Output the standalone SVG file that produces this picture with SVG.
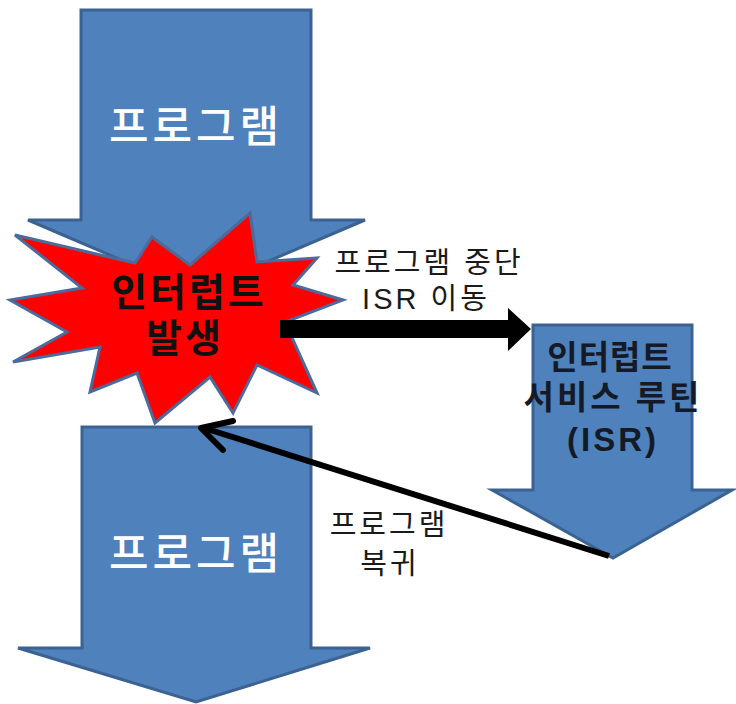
<svg xmlns="http://www.w3.org/2000/svg" width="736" height="704" viewBox="0 0 736 704">
<style>
.blk{fill:#4f81bd;stroke:#3b6291;stroke-width:3;stroke-linejoin:miter}
.t{font-family:"Liberation Sans","Noto Sans CJK KR",sans-serif;text-anchor:middle}
.wt{fill:#ffffff;font-size:43px;font-weight:500;letter-spacing:4px}
.bt{fill:#111111;font-size:39px;font-weight:700;letter-spacing:3px}
.it{fill:#141a26;font-size:33px;font-weight:700;letter-spacing:3px}
.lt{fill:#1a1a1a;font-size:29px;font-weight:400;letter-spacing:3px}
</style>
<rect width="736" height="704" fill="#ffffff"/>
<g id="program-top">
<path class="blk" d="M81,10 H311 V220 H365 L196,292 L28,220 H81 Z"/>
<text class="t wt" x="196" y="142">프로그램</text>
</g>
<g id="program-bottom">
<path class="blk" d="M82,427 H311 V648 H370 L196,702 L18,648 H82 Z"/>
<text class="t wt" x="196" y="569">프로그램</text>
</g>
<g id="isr">
<path class="blk" d="M533,325 H692 V490 H732 L613,558 L492,490 H533 Z"/>
<text class="t it" x="610" y="369" style="letter-spacing:1px">인터럽트</text>
<text class="t it" x="613" y="409">서비스 루틴</text>
<text class="t it" x="613" y="451">(ISR)</text>
</g>
<g id="interrupt">
<path d="M15,235 L135,263 L152,237 L190,265 L250,213 L257,262 L317,258 L293,285 L343,300 L285,322 L317,393 L257,365 L233,413 L210,377 L155,423 L137,373 L90,392 L100,347 L13,362 L67,332 L10,300 L82,288 Z" fill="#ff0000" stroke="#4a6b9b" stroke-width="3" stroke-linejoin="miter"/>
<text class="t bt" x="189" y="306">인터럽트</text>
<text class="t bt" x="185" y="352">발생</text>
</g>
<g id="connectors">
<path d="M280,320 H508 V308 L531,329 L508,351 V338 H280 Z" fill="#000000"/>
<line x1="609" y1="556" x2="204" y2="428" stroke="#000000" stroke-width="6"/>
<polyline points="233,421 201,428 223,450" fill="none" stroke="#000000" stroke-width="6" stroke-linecap="round" stroke-linejoin="round"/>
<text class="t lt" x="429" y="273">프로그램 중단</text>
<text class="t lt" x="426" y="309">ISR 이동</text>
<text class="t lt" x="389" y="535">프로그램</text>
<text class="t lt" x="390" y="574">복귀</text>
</g>
</svg>
